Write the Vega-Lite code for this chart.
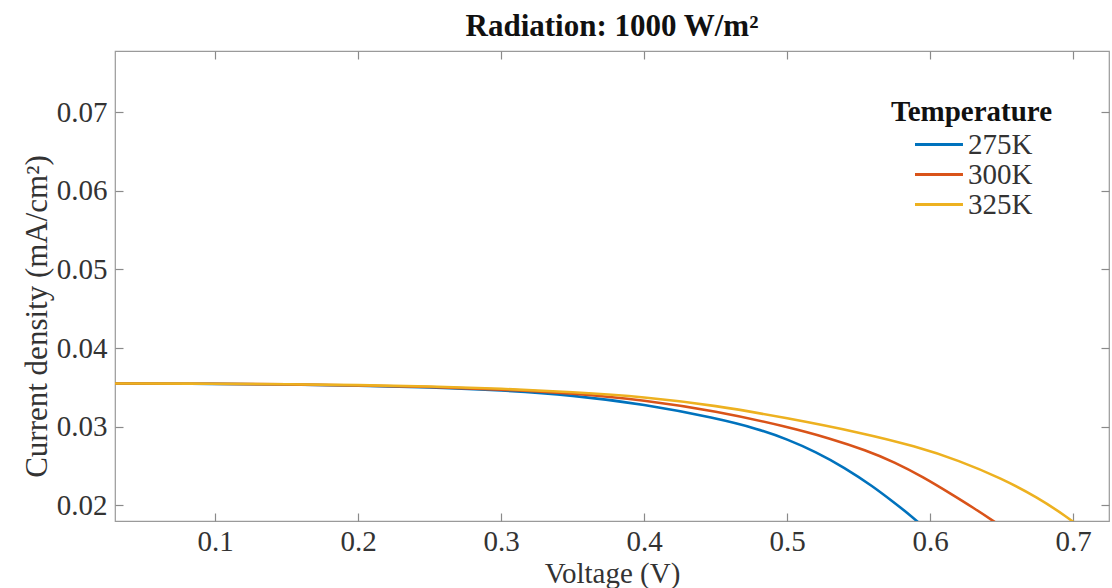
{
  "$schema": "https://vega.github.io/schema/vega-lite/v6.json",
  "width": 994,
  "height": 470,
  "autosize": {"type": "none"},
  "padding": {"left": 115, "top": 51, "right": 3, "bottom": 67},
  "background": "white",
  "title": {"text": "Radiation: 1000 W/m²", "font": "Liberation Serif", "fontSize": 31, "fontWeight": "bold", "color": "#111111", "anchor": "middle", "offset": 7},
  "config": {"view": {"stroke": "#9a9a9a", "strokeWidth": 1.2}, "font": "Liberation Serif"},
  "data": {"values": [
    {"V": 0.03, "J": 0.0355, "T": "275K"},
    {"V": 0.10, "J": 0.03545, "T": "275K"},
    {"V": 0.15, "J": 0.03537, "T": "275K"},
    {"V": 0.20, "J": 0.03522, "T": "275K"},
    {"V": 0.25, "J": 0.035, "T": "275K"},
    {"V": 0.30, "J": 0.03465, "T": "275K"},
    {"V": 0.35, "J": 0.034, "T": "275K"},
    {"V": 0.40, "J": 0.03285, "T": "275K"},
    {"V": 0.45, "J": 0.0311, "T": "275K"},
    {"V": 0.48, "J": 0.0297, "T": "275K"},
    {"V": 0.50, "J": 0.0284, "T": "275K"},
    {"V": 0.52, "J": 0.0268, "T": "275K"},
    {"V": 0.54, "J": 0.0248, "T": "275K"},
    {"V": 0.56, "J": 0.0224, "T": "275K"},
    {"V": 0.575, "J": 0.0203, "T": "275K"},
    {"V": 0.585, "J": 0.0189, "T": "275K"},
    {"V": 0.595, "J": 0.0173, "T": "275K"},
    {"V": 0.03, "J": 0.0355, "T": "300K"},
    {"V": 0.10, "J": 0.03546, "T": "300K"},
    {"V": 0.15, "J": 0.03539, "T": "300K"},
    {"V": 0.20, "J": 0.03526, "T": "300K"},
    {"V": 0.25, "J": 0.03506, "T": "300K"},
    {"V": 0.30, "J": 0.03475, "T": "300K"},
    {"V": 0.35, "J": 0.03425, "T": "300K"},
    {"V": 0.40, "J": 0.0334, "T": "300K"},
    {"V": 0.45, "J": 0.032, "T": "300K"},
    {"V": 0.50, "J": 0.03, "T": "300K"},
    {"V": 0.53, "J": 0.0285, "T": "300K"},
    {"V": 0.555, "J": 0.027, "T": "300K"},
    {"V": 0.575, "J": 0.0255, "T": "300K"},
    {"V": 0.595, "J": 0.0236, "T": "300K"},
    {"V": 0.615, "J": 0.0214, "T": "300K"},
    {"V": 0.63, "J": 0.0197, "T": "300K"},
    {"V": 0.645, "J": 0.0179, "T": "300K"},
    {"V": 0.66, "J": 0.016, "T": "300K"},
    {"V": 0.03, "J": 0.0355, "T": "325K"},
    {"V": 0.10, "J": 0.03547, "T": "325K"},
    {"V": 0.15, "J": 0.03541, "T": "325K"},
    {"V": 0.20, "J": 0.0353, "T": "325K"},
    {"V": 0.25, "J": 0.03512, "T": "325K"},
    {"V": 0.30, "J": 0.03485, "T": "325K"},
    {"V": 0.35, "J": 0.0344, "T": "325K"},
    {"V": 0.40, "J": 0.0338, "T": "325K"},
    {"V": 0.45, "J": 0.0327, "T": "325K"},
    {"V": 0.50, "J": 0.0311, "T": "325K"},
    {"V": 0.55, "J": 0.0293, "T": "325K"},
    {"V": 0.59, "J": 0.0275, "T": "325K"},
    {"V": 0.62, "J": 0.0257, "T": "325K"},
    {"V": 0.65, "J": 0.0234, "T": "325K"},
    {"V": 0.675, "J": 0.021, "T": "325K"},
    {"V": 0.695, "J": 0.0186, "T": "325K"},
    {"V": 0.705, "J": 0.0172, "T": "325K"}
  ]},
  "layer": [
    {
      "mark": {"type": "line", "strokeWidth": 2.6, "interpolate": "basis", "clip": true},
      "encoding": {
        "x": {"field": "V", "type": "quantitative",
          "scale": {"domain": [0.03, 0.725], "nice": false, "zero": false},
          "axis": {"orient": "bottom", "values": [0.1, 0.2, 0.3, 0.4, 0.5, 0.6, 0.7], "format": ".1f", "grid": false,
            "title": "Voltage (V)", "titleFont": "Liberation Serif", "titleFontSize": 29, "titleFontWeight": "normal", "titleColor": "#333333", "titlePadding": 3,
            "labelFont": "Liberation Serif", "labelFontSize": 29, "labelColor": "#333333", "labelPadding": 6,
            "offset": -8, "ticks": true, "tickSize": 8, "tickWidth": 1.2, "tickColor": "#8a8a8a", "domain": false, "labelFlush": false}},
        "y": {"field": "J", "type": "quantitative",
          "scale": {"domain": [0.018, 0.0778], "nice": false, "zero": false},
          "axis": {"orient": "left", "values": [0.02, 0.03, 0.04, 0.05, 0.06, 0.07], "format": ".2f", "grid": false,
            "title": "Current density (mA/cm²)", "titleFont": "Liberation Serif", "titleFontSize": 31, "titleFontWeight": "normal", "titleColor": "#333333", "titlePadding": 3, "titleY": 265,
            "labelFont": "Liberation Serif", "labelFontSize": 29, "labelColor": "#333333", "labelPadding": 8,
            "offset": -8, "ticks": true, "tickSize": 8, "tickWidth": 1.2, "tickColor": "#8a8a8a", "domain": false, "labelFlush": false}},
        "color": {"field": "T", "type": "nominal", "title": "Temperature",
          "scale": {"domain": ["275K", "300K", "325K"], "range": ["#0072BD", "#D95319", "#EDB120"]},
          "legend": {"orient": "none", "legendX": 776, "legendY": 47, "padding": 0, "titleFont": "Liberation Serif", "titleFontSize": 29, "titleFontWeight": "bold", "titleColor": "#111111", "titleAnchor": "start", "titlePadding": 3,
            "labelFont": "Liberation Serif", "labelFontSize": 29, "labelColor": "#333333", "labelOffset": 48,
            "symbolType": "M1.0,0H6.05", "symbolSize": 361, "symbolStrokeWidth": 3, "rowPadding": 0}}
      }
    },
    {
      "mark": {"type": "point", "opacity": 0},
      "encoding": {
        "x": {"field": "V", "type": "quantitative",
          "axis": {"orient": "top", "values": [0.1, 0.2, 0.3, 0.4, 0.5, 0.6, 0.7], "labels": false, "title": null, "grid": false, "offset": -8, "ticks": true, "tickSize": 8, "tickWidth": 1.2, "tickColor": "#8a8a8a", "domain": false}},
        "y": {"field": "J", "type": "quantitative",
          "axis": {"orient": "right", "values": [0.02, 0.03, 0.04, 0.05, 0.06, 0.07], "labels": false, "title": null, "grid": false, "offset": -8, "ticks": true, "tickSize": 8, "tickWidth": 1.2, "tickColor": "#8a8a8a", "domain": false}}
      }
    }
  ],
  "resolve": {"axis": {"x": "independent", "y": "independent"}}
}
